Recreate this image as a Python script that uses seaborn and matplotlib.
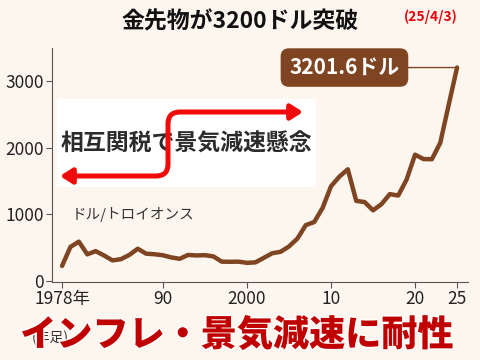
import matplotlib
matplotlib.use("Agg")
import matplotlib.pyplot as plt
import matplotlib.patches as mpatches
import matplotlib.patheffects as pe
from matplotlib.path import Path
import pandas as pd
import seaborn as sns

# year-end gold futures price (USD / troy ounce), 2025 = Apr 3
years = list(range(1978, 2026))
prices = [226, 512, 590, 400, 448, 382, 309, 327, 391, 484,
          410, 401, 386, 353, 333, 391, 383, 387, 369, 290,
          288, 290, 272, 279, 347, 416, 438, 518, 636, 838,
          884, 1096, 1421, 1566, 1675, 1202, 1184, 1060, 1152, 1303,
          1282, 1523, 1895, 1829, 1826, 2072, 2641, 3201.6]
xtick_pos = [1978, 1990, 2000, 2010, 2020, 2025]
xtick_labels = ["1978年", "90", "2000", "10", "20", "25"]
ytick_pos = [0, 1000, 2000, 3000]

title = "金先物が3200ドル突破"
date_label = "(25/4/3)"
last_label = "3201.6ドル"
headline = "相互関税で景気減速懸念"
unit_label = "ドル/トロイオンス"
note_label = "(年足)"
caption = "インフレ・景気減速に耐性"

BG = "#FDF6EF"
BROWN = "#7F4522"

df = pd.DataFrame({"year": years, "price": prices})

sns.set_theme(style="ticks")
plt.rcParams['font.family'] = ['Noto Sans CJK JP', 'DejaVu Sans']

fig = plt.figure(figsize=(4.8, 3.6), dpi=100, facecolor=BG)
ax = fig.add_axes([0.1083, 0.2167, 0.8667, 0.65])
ax.set_facecolor(BG)

sns.lineplot(data=df, x="year", y="price", ax=ax, color=BROWN,
             linewidth=3.2, zorder=3)

ax.set_xlim(1976.8, 2026.3)
ax.set_ylim(-15, 3495)
ax.set_xticks(xtick_pos)
ax.set_xticklabels(xtick_labels)
ax.set_yticks(ytick_pos)
ax.set_xlabel("")
ax.set_ylabel("")
sns.despine(ax=ax)
for s in ["left", "bottom"]:
    ax.spines[s].set_color("#555555")
    ax.spines[s].set_linewidth(0.8)
ax.tick_params(length=4, width=0.8, color="#555555", labelsize=12.5,
               labelcolor="#222222", pad=2)


def px(x, y):
    return (x / 480, 1 - y / 360)


# callout for the latest price
ax.annotate(last_label, xy=(years[-1], prices[-1]), xytext=(2011.6, prices[-1]),
            textcoords="data", ha="center", va="center", color="white",
            fontsize=15, fontweight="bold", zorder=5,
            bbox=dict(boxstyle="round,pad=0.42,rounding_size=0.4", fc=BROWN, ec="none"),
            arrowprops=dict(arrowstyle="-", color=BROWN, lw=1, shrinkA=0, shrinkB=0))

ax.text(1979.2, 1000, unit_label, fontsize=10.5, color="#333333", va="center")

# headline box with red S arrow
fig.add_artist(mpatches.Rectangle(px(57, 187), 259 / 480, 88 / 360,
                                  transform=fig.transFigure, fc="white", ec="none",
                                  zorder=6))
fig.text(*px(186, 144), headline, ha="center", va="center", fontsize=16.5,
         fontweight="bold", color="#2b2b2b", zorder=7)

verts = [px(60, 176), px(156, 176), px(168, 176), px(168, 164), px(168, 124),
         px(168, 112), px(180, 112), px(303, 112)]
codes = [Path.MOVETO, Path.LINETO, Path.CURVE3, Path.CURVE3, Path.LINETO,
         Path.CURVE3, Path.CURVE3, Path.LINETO]
arrow = mpatches.FancyArrowPatch(path=Path(verts, codes),
                                 arrowstyle="<|-|>,head_length=7,head_width=4.5",
                                 transform=fig.transFigure, color="#F00A0A",
                                 lw=3.6, shrinkA=0, shrinkB=0, zorder=8)
fig.add_artist(arrow)

fig.text(*px(240, 22), title, ha="center", va="center", fontsize=16.5,
         fontweight="bold", color="#111111")
fig.text(*px(431, 17), date_label, ha="center", va="center", fontsize=10,
         fontweight="bold", color="#E8000B")

fig.text(*px(50, 338), note_label, ha="center", va="center", fontsize=10,
         color="#333333", zorder=2)
fig.text(*px(237, 335), caption, ha="center", va="center", fontsize=26,
         fontweight="heavy", color="#C00000", zorder=9,
         path_effects=[pe.withStroke(linewidth=2, foreground="white")])

fig.savefig("out.png", dpi=100, facecolor=BG)
